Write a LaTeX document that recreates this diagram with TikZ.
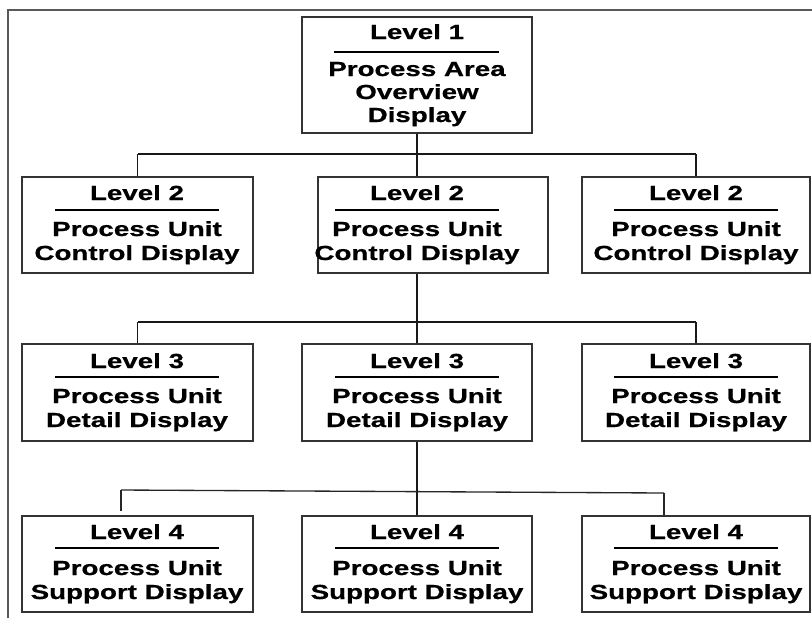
\documentclass[tikz,border=0pt]{standalone}
\usepackage{fontspec}
\setmainfont{Liberation Sans}[FakeStretch=1.36, BoldFeatures={FakeBold=0.7}]
\usetikzlibrary{fit}
\begin{document}
\begin{tikzpicture}[x=0.75pt,y=-0.75pt,
  dispbox/.style={draw=black!80, line width=1.25pt, inner sep=0pt, fit={#1}},
  lbl/.style={font=\bfseries\fontsize{15.3pt}{18pt}\selectfont, inner sep=0pt, anchor=base, text=black},
  rulethick/.style={line width=2.1pt, black},
  rulethin/.style={line width=1.2pt, black},
  conn/.style={line width=1.2pt, black!90},
  bus/.style={line width=2pt, black!90},
  busthin/.style={line width=1pt, black!85},
  frame/.style={line width=1.4pt, black!65}]
\useasboundingbox (0,0) rectangle (812,618);

% page frame
\draw[frame] (8,618) -- (8,10) -- (812,10);

% ---------- Level 1 ----------
\node[dispbox={(302,17) (532,133)}] (b1) {};
\node[lbl] (t1a) at (417,39) {Level 1};
\draw[rulethick] (334,52) -- (499,52);
\node[lbl] (t1b) at (417,76) {Process Area};
\node[lbl] (t1c) at (417,99) {Overview};
\node[lbl] (t1d) at (417,122) {Display};

% ---------- Level 2 ----------
\node[dispbox={(22,177) (253,273)}] (b2l) {};
\node[dispbox={(318,177) (548,273)}] (b2m) {};
\node[dispbox={(582,177) (810,273)}] (b2r) {};
\foreach \cx/\nm in {137/l,417/m,696/r}{
  \node[lbl] (t2a\nm) at (\cx,200) {Level 2};
  \draw[rulethin] (\cx-82,210) -- (\cx+82,210);
  \node[lbl] (t2b\nm) at (\cx,236) {Process Unit};
  \node[lbl] (t2c\nm) at (\cx,260) {Control Display};
}

% ---------- Level 3 ----------
\node[dispbox={(22,344) (253,441)}] (b3l) {};
\node[dispbox={(302,344) (532,441)}] (b3m) {};
\node[dispbox={(582,344) (810,441)}] (b3r) {};
\foreach \cx/\nm in {137/l,417/m,696/r}{
  \node[lbl] (t3a\nm) at (\cx,368) {Level 3};
  \draw[rulethin] (\cx-82,377) -- (\cx+82,377);
  \node[lbl] (t3b\nm) at (\cx,403) {Process Unit};
  \node[lbl] (t3c\nm) at (\cx,427) {Detail Display};
}

% ---------- Level 4 ----------
\node[dispbox={(22,516) (253,612)}] (b4l) {};
\node[dispbox={(302,516) (532,612)}] (b4m) {};
\node[dispbox={(582,516) (810,612)}] (b4r) {};
\foreach \cx/\nm in {137/l,417/m,696/r}{
  \node[lbl] (t4a\nm) at (\cx,539) {Level 4};
  \draw[rulethick] (\cx-82,548) -- (\cx+82,548);
  \node[lbl] (t4b\nm) at (\cx,575) {Process Unit};
  \node[lbl] (t4c\nm) at (\cx,599) {Support Display};
}

% ---------- connectors 1 -> 2 ----------
\coordinate (j1) at (417,154);
\draw[conn] (b1.south) -- (j1);
\draw[bus] (j1 -| b2l.north) -- (j1 -| b2r.north);
\draw[conn] (j1 -| b2l.north) -- (b2l.north);
\draw[conn] (j1) -- (j1 |- b2m.north);
\draw[conn] (j1 -| b2r.north) -- (b2r.north);

% ---------- connectors 2 -> 3 ----------
\coordinate (j2) at (417,322);
\draw[conn] (j2 |- b2m.south) -- (j2);
\draw[bus] (j2 -| b3l.north) -- (j2 -| b3r.north);
\draw[conn] (j2 -| b3l.north) -- (b3l.north);
\draw[conn] (j2) -- (b3m.north);
\draw[conn] (j2 -| b3r.north) -- (b3r.north);

% ---------- connectors 3 -> 4 ----------
\coordinate (j3l) at (121,490);
\coordinate (j3r) at (664,493);
\coordinate (e3l) at (121,511);
\draw[conn] (b3m.south) -- (b4m.north);
\draw[busthin] (j3l) -- (j3r);
\draw[busthin] (j3l) -- (e3l);
\draw[busthin] (j3r) -- (j3r |- b4r.north);
\end{tikzpicture}
\end{document}
